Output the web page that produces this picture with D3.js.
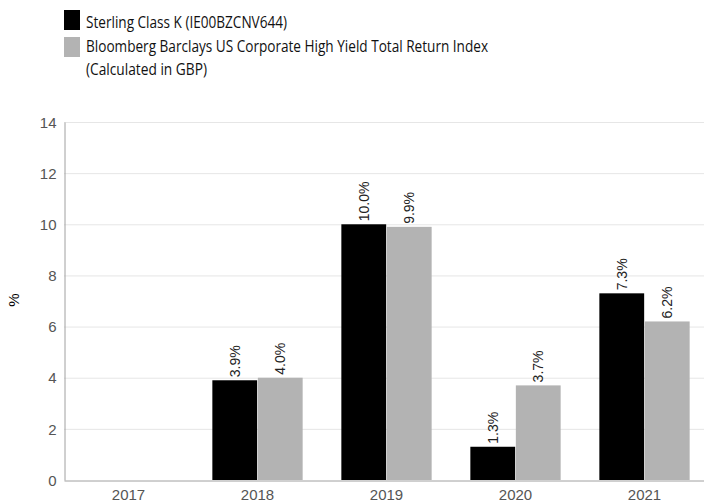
<!DOCTYPE html>
<html>
<head>
<meta charset="utf-8">
<script src="https://cdn.jsdelivr.net/npm/d3@7"></script>
<style>
  body { margin: 0; background: #fff; }
  svg { display: block; }
</style>
</head>
<body>
<div class="canvas"></div>
<script>
const years = ['2017', '2018', '2019', '2020', '2021'];
const seriesNames = [
  'Sterling Class K (IE00BZCNV644)',
  'Bloomberg Barclays US Corporate High Yield Total Return Index',
];
const fundValues = [null, 3.9, 10.0, 1.3, 7.3];
const indexValues = [null, 4.0, 9.9, 3.7, 6.2];
const yTicks = [0, 2, 4, 6, 8, 10, 12, 14];
const colors = ['#000000', '#b3b3b3'];

const width = 704;
const height = 502;

const svg = d3.select('.canvas')
  .append('svg')
  .attr('width', width)
  .attr('height', height);

// plot area
const margin = { top: 122, right: -5, bottom: 22, left: 64 };
const graphWidth = width - margin.left - margin.right;
const graphHeight = height - margin.top - margin.bottom;

const graph = svg.append('g')
  .attr('transform', `translate(${margin.left}, ${margin.top})`);

// scales
const x = d3.scaleBand()
  .domain(years)
  .range([0, graphWidth])
  .paddingInner(0)
  .paddingOuter(0);

const x1 = d3.scaleBand()
  .domain([0, 1])
  .range([x.bandwidth() * 0.15, x.bandwidth() * 0.85])
  .paddingInner(0.015);

const y = d3.scaleLinear()
  .domain([0, 14])
  .range([graphHeight, 0]);

// gridlines
graph.append('g')
  .selectAll('line')
  .data(yTicks.filter(d => d > 0))
  .enter()
  .append('line')
  .attr('x1', 0)
  .attr('x2', graphWidth)
  .attr('y1', d => y(d) + 0.5)
  .attr('y2', d => y(d) + 0.5)
  .attr('stroke', '#e6e6e6');

// axes
const yAxis = d3.axisLeft(y).tickValues(yTicks).tickSize(0).tickPadding(8);
const xAxis = d3.axisBottom(x).tickSize(0).tickPadding(7);

const yAxisGroup = graph.append('g').attr('transform', 'translate(0.5, 0)').call(yAxis);
const xAxisGroup = graph.append('g').attr('transform', `translate(0, ${graphHeight + 0.5})`).call(xAxis);

[yAxisGroup, xAxisGroup].forEach((g) => {
  g.select('.domain').attr('stroke', '#a0a0a0');
  g.selectAll('text')
    .attr('fill', '#555')
    .style('font-family', '"Liberation Sans", Arial, sans-serif')
    .style('font-size', '15px');
});
yAxisGroup.selectAll('text').attr('dy', '0.35em');
xAxisGroup.selectAll('text').attr('dy', '0.8em');

// y title
svg.append('text')
  .attr('transform', 'translate(19, 300) rotate(-90)')
  .attr('text-anchor', 'middle')
  .style('font-family', '"Liberation Sans", Arial, sans-serif')
  .style('font-size', '15px')
  .attr('fill', '#000')
  .text('%');

// bars
const rows = years.map((yr, i) => ({ year: yr, values: [fundValues[i], indexValues[i]] }));

const groups = graph.selectAll('g.year')
  .data(rows)
  .enter()
  .append('g')
  .attr('class', 'year')
  .attr('transform', d => `translate(${x(d.year)}, 0)`);

const cells = groups.selectAll('g.bar')
  .data(d => d.values.map((v, s) => ({ s, v })).filter(d => d.v !== null))
  .enter()
  .append('g')
  .attr('class', 'bar');

cells.append('rect')
  .attr('x', d => x1(d.s))
  .attr('width', x1.bandwidth())
  .attr('y', d => y(d.v))
  .attr('height', d => y(0) - y(d.v))
  .attr('fill', d => colors[d.s]);

cells.append('text')
  .attr('transform', d => `translate(${x1(d.s) + x1.bandwidth() / 2 + 5}, ${y(d.v) - 3}) rotate(-90)`)
  .attr('text-anchor', 'start')
  .style('font-family', '"Liberation Sans", Arial, sans-serif')
  .style('font-size', '14px')
  .attr('fill', '#222')
  .text(d => `${d.v.toFixed(1)}%`);

// legend
const legend = svg.append('g');
const legendFont = '"Open Sans", sans-serif';

legend.append('rect').attr('x', 64).attr('y', 10).attr('width', 16).attr('height', 20).attr('fill', colors[0]);
legend.append('rect').attr('x', 64).attr('y', 37).attr('width', 16).attr('height', 20).attr('fill', colors[1]);

// reference font is narrower than Open Sans, so squeeze to the measured widths
const legendLines = [
  { text: seriesNames[0], y: 28, len: 201 },
  { text: seriesNames[1], y: 52, len: 402 },
  { text: '(Calculated in GBP)', y: 75, len: 121 },
];

legend.selectAll('text')
  .data(legendLines)
  .enter()
  .append('text')
  .attr('x', 86)
  .attr('y', d => d.y)
  .attr('textLength', d => d.len)
  .attr('lengthAdjust', 'spacingAndGlyphs')
  .style('font-family', legendFont)
  .style('font-size', '16px')
  .attr('fill', '#111')
  .text(d => d.text);
</script>
</body>
</html>
